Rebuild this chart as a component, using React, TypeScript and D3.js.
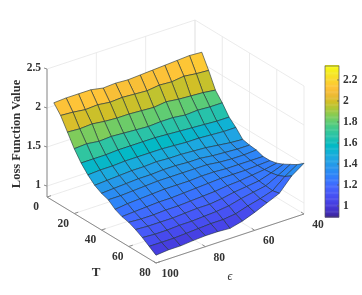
import React from "react";
import * as d3 from "d3";

const W = 362;
const H = 295;

const tTicks = [0, 20, 40, 60, 80];
const eTicks = [100, 80, 60, 40];
const zTicks = [1, 1.5, 2, 2.5];
const zTickLabels = ["1", "1.5", "2", "2.5"];
const cbTicks = [1, 1.2, 1.4, 1.6, 1.8, 2, 2.2];
const cbTickLabels = ["1", "1.2", "1.4", "1.6", "1.8", "2", "2.2"];

const tValues = [5, 10, 15, 20, 25, 30, 35, 40, 45, 50, 55, 60, 65, 70, 75, 80];
const eValues = [100, 95, 90, 85, 80, 75, 70, 65, 60, 55, 50, 45, 40];

// one row per T, columns follow eValues
const loss = [
  [2.12, 2.13, 2.13, 2.13, 2.10, 2.11, 2.10, 2.11, 2.12, 2.13, 2.14, 2.15, 2.14],
  [2.01, 2.00, 1.98, 1.99, 1.97, 1.98, 1.97, 1.96, 1.98, 1.97, 1.99, 1.97, 1.96],
  [1.85, 1.84, 1.85, 1.83, 1.82, 1.82, 1.81, 1.80, 1.82, 1.80, 1.79, 1.78, 1.76],
  [1.69, 1.70, 1.68, 1.69, 1.68, 1.67, 1.66, 1.67, 1.67, 1.65, 1.66, 1.65, 1.65],
  [1.56, 1.56, 1.56, 1.57, 1.57, 1.57, 1.57, 1.56, 1.55, 1.54, 1.53, 1.52, 1.52],
  [1.46, 1.47, 1.47, 1.48, 1.48, 1.48, 1.48, 1.47, 1.46, 1.46, 1.45, 1.44, 1.44],
  [1.38, 1.39, 1.40, 1.41, 1.41, 1.42, 1.41, 1.41, 1.40, 1.39, 1.37, 1.35, 1.34],
  [1.33, 1.34, 1.35, 1.36, 1.36, 1.37, 1.37, 1.36, 1.36, 1.34, 1.33, 1.32, 1.32],
  [1.30, 1.30, 1.31, 1.32, 1.33, 1.33, 1.33, 1.33, 1.33, 1.31, 1.30, 1.30, 1.31],
  [1.23, 1.25, 1.26, 1.27, 1.28, 1.28, 1.28, 1.29, 1.29, 1.28, 1.28, 1.28, 1.28],
  [1.19, 1.20, 1.21, 1.22, 1.22, 1.23, 1.24, 1.25, 1.26, 1.26, 1.26, 1.27, 1.28],
  [1.17, 1.16, 1.16, 1.17, 1.17, 1.18, 1.19, 1.20, 1.22, 1.23, 1.25, 1.27, 1.30],
  [1.13, 1.12, 1.12, 1.12, 1.13, 1.14, 1.14, 1.16, 1.19, 1.21, 1.23, 1.28, 1.34],
  [1.08, 1.07, 1.07, 1.08, 1.08, 1.09, 1.10, 1.12, 1.16, 1.19, 1.22, 1.30, 1.39],
  [1.02, 1.02, 1.02, 1.03, 1.04, 1.05, 1.05, 1.07, 1.12, 1.16, 1.21, 1.34, 1.44],
  [0.96, 0.975, 0.975, 0.99, 1.00, 1.00, 0.99, 1.03, 1.09, 1.16, 1.23, 1.40, 1.51],
];

const parulaStops = [
  "#3e2699", "#4332cb", "#4741e5", "#4752f4", "#4563fd", "#3875fe", "#2d87f7", "#2796eb",
  "#20a5e3", "#12b1d6", "#02bac3", "#24c1ae", "#37c897", "#57cc7a", "#81cc59", "#abc739",
  "#d1bf27", "#efba36", "#fec338", "#fad62d", "#f5e924", "#f9fb14",
];

const parula = d3.scaleSequential(d3.piecewise(d3.interpolateRgb, parulaStops)).domain([0.895, 2.333]);

// the three box edges on screen, as pixels per data range
const tx = d3.scaleLinear().domain([0, 80]).range([0, 109]);
const ty = d3.scaleLinear().domain([0, 80]).range([0, 66]);
const ex = d3.scaleLinear().domain([100, 40]).range([0, 148]);
const ey = d3.scaleLinear().domain([100, 40]).range([0, -49]);
const zy = d3.scaleLinear().domain([0.86, 2.5]).range([197, 69]);
const originX = 47;
const zMin = 0.86;
const zMax = 2.5;

function project(t: number, e: number, z: number): [number, number] {
  return [originX + tx(t) + ex(e), zy(z) + ty(t) + ey(e)];
}

const cbY = d3.scaleLinear().domain([0.895, 2.333]).range([217, 66]);
const cbSteps = d3.range(0, 128).map((i) => 0.895 + ((2.333 - 0.895) * i) / 127);

const line = d3.line();
const GRID = "#e6e6e6";
const AXIS = "#8c8c8c";
const TEXT = "#333333";
const FONT = "'Liberation Serif', serif";

function seg(key: string, a: [number, number], b: [number, number], stroke: string, width = 0.8) {
  return <path key={key} d={line([a, b]) || ""} stroke={stroke} strokeWidth={width} fill="none" />;
}

export default function App() {
  const cells: React.ReactElement[] = [];
  // back to front: small T first, e = 40 first
  tValues.slice(0, -1).forEach((t, k) => {
    for (let j = eValues.length - 2; j >= 0; j--) {
      const p = [
        project(t, eValues[j], loss[k][j]),
        project(t, eValues[j + 1], loss[k][j + 1]),
        project(tValues[k + 1], eValues[j + 1], loss[k + 1][j + 1]),
        project(tValues[k + 1], eValues[j], loss[k + 1][j]),
      ] as [number, number][];
      cells.push(
        <path
          key={`c${k}-${j}`}
          d={(line(p) || "") + "Z"}
          fill={parula(loss[k][j])}
          stroke="#1f3038"
          strokeOpacity={0.85}
          strokeWidth={0.7}
          strokeLinejoin="round"
        />
      );
    }
  });

  return (
    <svg
      width={W}
      height={H}
      viewBox={`0 0 ${W} ${H}`}
      style={{ position: "fixed", left: 0, top: 0, background: "#fff", filter: "blur(0.35px)" }}
    >
      {/* walls and floor grid */}
      <g>
        {zTicks.map((z) => (
          <g key={`gz${z}`}>
            {seg(`a${z}`, project(0, 100, z), project(0, 40, z), GRID)}
            {seg(`b${z}`, project(0, 40, z), project(80, 40, z), GRID)}
          </g>
        ))}
        {eTicks.map((e) => (
          <g key={`ge${e}`}>
            {seg(`a${e}`, project(0, e, zMin), project(0, e, zMax), GRID)}
            {seg(`b${e}`, project(0, e, zMin), project(80, e, zMin), GRID)}
          </g>
        ))}
        {tTicks.map((t) => (
          <g key={`gt${t}`}>
            {seg(`a${t}`, project(t, 40, zMin), project(t, 40, zMax), GRID)}
            {seg(`b${t}`, project(t, 100, zMin), project(t, 40, zMin), GRID)}
          </g>
        ))}
      </g>

      {/* axes */}
      {seg("zAxis", project(0, 100, zMin), project(0, 100, zMax), AXIS, 1)}
      {seg("tAxis", project(0, 100, zMin), project(80, 100, zMin), AXIS, 1)}
      {seg("eAxis", project(80, 100, zMin), project(80, 40, zMin), AXIS, 1)}
      {zTicks.map((z) => {
        const [x, y] = project(0, 100, z);
        return seg(`zt${z}`, [x, y], [x - 3, y - 1], AXIS, 1);
      })}
      {tTicks.map((t) => {
        const [x, y] = project(t, 100, zMin);
        return seg(`tt${t}`, [x, y], [x + 4, y - 1.3], AXIS, 1);
      })}
      {eTicks.map((e) => {
        const [x, y] = project(80, e, zMin);
        return seg(`et${e}`, [x, y], [x - 3, y - 2], AXIS, 1);
      })}

      <g>{cells}</g>

      {/* tick labels */}
      <g fontFamily={FONT} fontWeight="bold" fontSize={11.5} fill={TEXT}>
        {zTicks.map((z, i) => {
          const [x, y] = project(0, 100, z);
          return (
            <text key={`zl${z}`} x={x - 6} y={y + 2} textAnchor="end">
              {zTickLabels[i]}
            </text>
          );
        })}
        {tTicks.map((t) => {
          const [x, y] = project(t, 100, zMin);
          return (
            <text key={`tl${t}`} x={x - 11} y={y + 13} textAnchor="middle">
              {t}
            </text>
          );
        })}
        {eTicks.map((e) => {
          const [x, y] = project(80, e, zMin);
          return (
            <text key={`el${e}`} x={x + 14} y={y + 14} textAnchor="middle">
              {e}
            </text>
          );
        })}
        {cbTicks.map((v, i) => (
          <text key={`cl${v}`} x={343} y={cbY(v) + 3.5}>
            {cbTickLabels[i]}
          </text>
        ))}
      </g>

      {/* axis titles */}
      <g fontFamily={FONT} fontWeight="bold" fill={TEXT}>
        <text
          fontSize={12.5}
          textAnchor="middle"
          transform="translate(20,134) rotate(-90)"
        >
          Loss Function Value
        </text>
        <text x={96} y={276} fontSize={13} textAnchor="middle">
          T
        </text>
        <text x={230} y={280} fontSize={12} textAnchor="middle" fontStyle="italic" fontWeight="normal">
          ϵ
        </text>
      </g>

      {/* colorbar */}
      <g>
        {cbSteps.map((v) => (
          <rect key={`cb${v}`} x={325} y={cbY(v) - 1} width={14} height={1.6} fill={parula(v)} />
        ))}
        <rect x={325} y={66} width={14} height={151} fill="none" stroke="#555" strokeWidth={0.7} />
        {cbTicks.map((v) => seg(`cbt${v}`, [337, cbY(v)], [339, cbY(v)], "#555", 0.7))}
      </g>
    </svg>
  );
}
